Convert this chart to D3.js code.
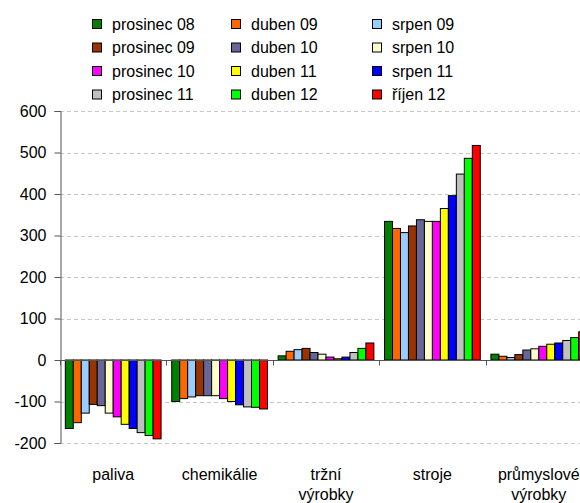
<!DOCTYPE html>
<html>
<head>
<meta charset="utf-8">
<script src="https://cdn.jsdelivr.net/npm/d3@7"></script>
<style>
	body { margin: 0; background: #fff; overflow: hidden; }
	svg { display: block; font-family: "Liberation Sans", Arial, sans-serif; }
</style>
</head>
<body>
<div id="chart"></div>
<script>
const categories = ['paliva', 'chemikálie', 'tržní\nvýrobky', 'stroje', 'průmyslové\nvýrobky'];

const seriesNames = ['prosinec 08', 'duben 09', 'srpen 09', 'prosinec 09', 'duben 10', 'srpen 10',
	'prosinec 10', 'duben 11', 'srpen 11', 'prosinec 11', 'duben 12', 'říjen 12'];

const seriesColors = ['#008000', '#ff6600', '#99ccff', '#993300', '#666699', '#ffffcc',
	'#ff00ff', '#ffff00', '#0000ff', '#c0c0c0', '#00ff00', '#ff0000'];

// one array per category, values in series order
const paliva = [-165, -151, -128, -107, -110, -128, -137, -155, -165, -175, -182, -190];
const chemikalie = [-100, -93, -89, -86, -86, -86, -93, -100, -108, -113, -114, -118];
const trzniVyrobky = [10, 21, 25, 28, 18, 14, 7, 3, 7, 18, 28, 41];
const stroje = [334, 317, 307, 323, 338, 334, 334, 365, 396, 448, 486, 517];
const prumysloveVyrobky = [14, 9, 6, 13, 24, 27, 33, 38, 41, 47, 54, 68];

const values = [paliva, chemikalie, trzniVyrobky, stroje, prumysloveVyrobky];
const yTicks = [-200, -100, 0, 100, 200, 300, 400, 500, 600];

const width = 580;
const height = 503;
const plot = { left: 60, right: 592, top: 111, bottom: 443 };

const svg = d3.select('#chart').append('svg')
	.attr('width', width)
	.attr('height', height);

const x = d3.scaleBand()
	.domain(d3.range(categories.length))
	.range([plot.left, plot.right])
	.paddingInner(0.1)
	.paddingOuter(0.05);

const xInner = d3.scaleBand()
	.domain(d3.range(seriesNames.length))
	.range([0, x.bandwidth()]);

const y = d3.scaleLinear()
	.domain([-200, 600])
	.range([plot.bottom, plot.top]);

const color = d3.scaleOrdinal(d3.range(seriesNames.length), seriesColors);

// gridlines
svg.append('g')
	.selectAll('line')
	.data(yTicks.filter(d => d !== 0))
	.enter()
	.append('line')
		.attr('x1', plot.left)
		.attr('x2', width)
		.attr('y1', d => Math.round(y(d)) + 0.5)
		.attr('y2', d => Math.round(y(d)) + 0.5)
		.style('stroke', '#c8c8c8')
		.style('stroke-dasharray', '4,3');

// bars
svg.append('g')
	.selectAll('g')
	.data(values)
	.enter()
	.append('g')
		.attr('transform', (d, i) => `translate(${x(i)},0)`)
	.selectAll('rect')
	.data(d => d)
	.enter()
	.append('rect')
		.attr('x', (d, i) => xInner(i))
		.attr('y', d => y(Math.max(0, d)))
		.attr('width', xInner.bandwidth())
		.attr('height', d => Math.abs(y(d) - y(0)))
		.attr('fill', (d, i) => color(i))
		.style('stroke', '#000')
		.style('stroke-width', 1);

// zero line and category ticks
const zeroY = Math.round(y(0)) + 0.5;
svg.append('line')
	.attr('x1', plot.left)
	.attr('x2', width)
	.attr('y1', zeroY)
	.attr('y2', zeroY)
	.style('stroke', '#555');

svg.append('g')
	.selectAll('line')
	.data(d3.range(categories.length + 1))
	.enter()
	.append('line')
		.attr('x1', i => Math.round(plot.left + i * x.step()) + 0.5)
		.attr('x2', i => Math.round(plot.left + i * x.step()) + 0.5)
		.attr('y1', zeroY)
		.attr('y2', zeroY + 5)
		.style('stroke', '#555');

// y axis
const yAxis = d3.axisLeft(y)
	.tickValues(yTicks)
	.tickSize(6)
	.tickPadding(8)
	.tickFormat(d => String(d));

svg.append('g')
	.attr('class', 'y-axis')
	.attr('transform', `translate(${plot.left + 0.5},0)`)
	.call(yAxis)
	.call(g => g.select('.domain').attr('stroke', '#555'))
	.call(g => g.selectAll('.tick line').attr('stroke', '#555'))
	.call(g => g.selectAll('.tick text')
		.attr('fill', '#000')
		.style('font-size', '16px')
		.style('font-family', '"Liberation Sans", Arial, sans-serif'));

// category labels
const catLabels = svg.append('g')
	.selectAll('text')
	.data(categories)
	.enter()
	.append('text')
		.attr('x', (d, i) => x(i) + x.bandwidth() / 2)
		.attr('y', 480)
		.attr('text-anchor', 'middle')
		.style('font-size', '16px')
		.attr('fill', '#000');

catLabels.selectAll('tspan')
	.data(d => d.split('\n'))
	.enter()
	.append('tspan')
		.attr('x', function() { return this.parentNode.getAttribute('x'); })
		.attr('dy', (d, i) => i === 0 ? 0 : 19.5)
		.text(d => d);

// legend, 3 columns filled row by row
const legendCols = [92, 231, 372];
const legendTop = 24;
const legendRow = 23.5;

const legend = svg.append('g')
	.selectAll('g')
	.data(seriesNames)
	.enter()
	.append('g')
		.attr('transform', (d, i) => `translate(${legendCols[i % 3]},${legendTop + Math.floor(i / 3) * legendRow})`);

legend.append('rect')
	.attr('x', 0.5)
	.attr('y', -4.5)
	.attr('width', 9)
	.attr('height', 9)
	.attr('fill', (d, i) => color(i))
	.style('stroke', '#000');

legend.append('text')
	.attr('x', 20)
	.attr('dy', '0.35em')
	.style('font-size', '16px')
	.attr('fill', '#000')
	.text(d => d);
</script>
</body>
</html>
